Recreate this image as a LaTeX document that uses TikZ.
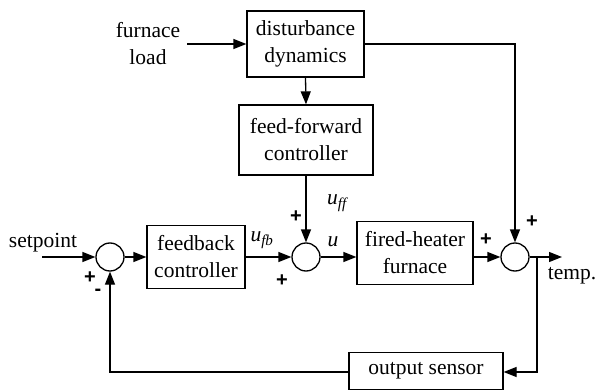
\documentclass[tikz,border=0pt]{standalone}
\usepackage{fontspec}
\setmainfont{Liberation Serif}
\newfontfamily\signfont{Liberation Sans}
\usetikzlibrary{arrows.meta}
\begin{document}
\begin{tikzpicture}[x=1pt,y=-1pt,
  blk/.style={draw,line width=1.3pt,minimum width=#1,inner sep=0pt,align=center,font=\fontsize{21.5}{27}\selectfont},
  sumc/.style={draw,circle,line width=1.3pt,minimum size=28pt,inner sep=0pt},
  wire/.style={line width=1.3pt},
  arr/.style={wire,-{Triangle[length=13pt,width=10pt]}},
  lbl/.style={font=\fontsize{21.5}{27}\selectfont,inner sep=0pt,align=center},
  sgn/.style={font=\signfont\bfseries\fontsize{20}{20}\selectfont,inner sep=0pt}]
\useasboundingbox (0,0) rectangle (599,390);
\node[blk=117pt,minimum height=66pt] (dist) at (305.5,44) {disturbance\\dynamics};
\node[blk=134pt,minimum height=70pt] (ff) at (306,140) {feed-forward\\controller};
\node[blk=98pt,minimum height=63pt] (fb) at (196,257) {feedback\\controller};
\node[blk=116pt,minimum height=63pt] (fh) at (415,253) {fired-heater\\furnace};
\node[blk=154pt,minimum height=37pt] (os) at (426,371) {output sensor};
\node[sumc] (s1) at (110,257) {};
\node[sumc] (s2) at (306,257) {};
\node[sumc] (s3) at (515,257) {};
\node[lbl] (load) at (148,44) {furnace\\load};
\node[lbl] (sp) at (43,243) {setpoint};
\node[lbl] (temp) at (572,276) {temp.};
\node[lbl] (uff) at (337,203) {\itshape u\textsubscript{ff}};
\node[lbl] (ufb) at (262,240) {\itshape u\textsubscript{fb}};
\node[lbl] (u) at (333,242) {\itshape u};
\node[sgn] (p1) at (90,278) {+};
\node[sgn] (m1) at (98,292) {-};
\node[sgn] (p2) at (296,217) {+};
\node[sgn] (p3) at (282,281) {+};
\node[sgn] (p4) at (486,240) {+};
\node[sgn] (p5) at (532,222) {+};
\coordinate (loadin) at (187,44);
\coordinate (spin) at (42,257);
\coordinate (dcorner) at (515,44);
\coordinate (outend) at (562,257);
\coordinate (br) at (537,257);
\coordinate (brdown) at (537,372);
\coordinate (fbcorner) at (110,372);
\draw[arr] (loadin) -- (dist.west);
\draw[arr] (dist.south) -- (ff.north);
\draw[arr] (ff.south) -- (s2.north);
\draw[arr] (spin) -- (s1.west);
\draw[arr] (s1.east) -- (fb.west |- s1.east);
\draw[arr] (fb.east |- s2.west) -- (s2.west);
\draw[arr] (s2.east) -- (fh.west |- s2.east);
\draw[arr] (fh.east |- s3.west) -- (s3.west);
\draw[arr] (dist.east) -- (dcorner) -- (s3.north);
\draw[arr] (s3.east) -- (outend);
\draw[arr] (br) -- (brdown) -- (os.east |- brdown);
\draw[arr] (os.west |- fbcorner) -- (fbcorner) -- (s1.south);
\end{tikzpicture}
\end{document}
